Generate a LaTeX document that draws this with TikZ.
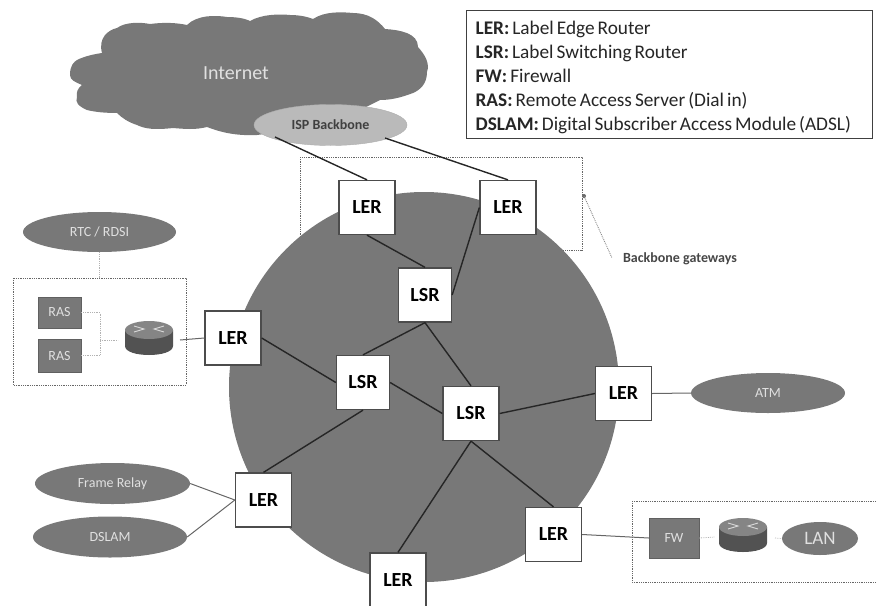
\documentclass[tikz,border=0pt]{standalone}
\usepackage{fontspec}
\setmainfont{Carlito}
\usetikzlibrary{shapes.geometric}
\definecolor{dk}{gray}{0.47}
\tikzset{
 box/.style={draw=black!70,line width=1.3pt,fill=white,minimum width=#1,minimum height=54pt,inner sep=0pt,font=\fontsize{20}{20}\selectfont\bfseries},
 box/.default=56pt,
 oval/.style={ellipse,fill=dk,inner sep=0pt,text=white!88!black,font=\fontsize{14}{14}\selectfont},
 gray box/.style={fill=dk,draw=dk!80!black,inner sep=0pt,text=white!88!black,font=\fontsize{14}{14}\selectfont},
 link/.style={draw=black!85,line width=1.4pt},
 thin link/.style={draw=black!60,line width=1pt},
 faint/.style={draw=black!30,line width=.8pt,densely dotted},
 region/.style={draw=black!60,line width=.8pt,densely dotted},
}
\newcommand{\routericon}[1]{%
 \begin{scope}[shift={(#1)}]
  \fill[black!68] (-24,-8) -- (-24,8) .. controls (-24,20) and (24,20) .. (24,8) -- (24,-8) -- cycle;
  \fill[black!48] (0,-8) ellipse[x radius=24,y radius=9];
  \draw[white!85!black,line width=.9pt] (-15,-12) -- (-5,-9) -- (-15,-6) (15,-12) -- (5,-9) -- (15,-6);
 \end{scope}}
\begin{document}
\begin{tikzpicture}[x=1pt,y=-1pt]
\useasboundingbox (0,0) rectangle (877,605);
\begin{scope}
\clip (0,0) rectangle (877,605);
% regions behind the circle
\draw[region] (300,157) rectangle (582,250);
% backbone circle
\fill[dk] (424,387) circle[radius=195];
% cloud
\fill[dk] (102,53) .. controls (98,38) and (108,30) .. (117,28)
 .. controls (125,22) and (140,22) .. (150,24)
 .. controls (165,22) and (178,23) .. (187,25)
 .. controls (197,15) and (215,15) .. (227,17)
 .. controls (235,17) and (244,18) .. (250,21)
 .. controls (262,14) and (280,14) .. (290,15)
 .. controls (300,15) and (308,17) .. (313,19)
 .. controls (325,11) and (342,12) .. (353,13)
 .. controls (368,13) and (378,20) .. (385,29)
 .. controls (400,30) and (418,33) .. (418,47)
 .. controls (425,55) and (430,63) .. (427,72)
 .. controls (427,84) and (420,90) .. (413,93)
 .. controls (400,98) and (390,100) .. (380,100)
 -- (330,125) -- (257,135)
 .. controls (235,136) and (220,132) .. (207,127)
 .. controls (195,130) and (185,129) .. (173,128)
 .. controls (155,130) and (145,129) .. (137,125)
 .. controls (128,122) and (122,118) .. (117,113)
 .. controls (105,113) and (95,112) .. (87,110)
 .. controls (78,106) and (75,102) .. (77,97)
 .. controls (76,92) and (78,88) .. (82,85)
 .. controls (75,82) and (70,80) .. (70,75)
 .. controls (70,65) and (74,62) .. (77,60)
 .. controls (85,56) and (95,54) .. (102,53) -- cycle;
\node[text=white!88!black,font=\fontsize{20}{20}\selectfont] (inet) at (236,73) {Internet};
\node[ellipse,minimum width=153pt,minimum height=41pt,inner sep=0pt,fill=black!27,draw=black!32,font=\fontsize{14}{14}\selectfont\bfseries,text=black!75] (isp) at (330.5,125) {ISP Backbone};
% dotted regions
\draw[region] (13,278) rectangle (186,385);
\draw[region] (632,501) -- (632,582) -- (877,582) (632,501) -- (877,501);
% nodes
\node[box] (l1) at (367,207.5) {LER};
\node[box] (l2) at (508,207.5) {LER};
\node[box=53pt] (s1) at (425,295) {LSR};
\node[box=53pt] (s2) at (363,382.5) {LSR};
\node[box] (s3) at (471,413.5) {LSR};
\node[box] (l3) at (233,338) {LER};
\node[box] (l4) at (623.5,393.5) {LER};
\node[box] (l5) at (263.5,500) {LER};
\node[box] (l6) at (553.5,534.5) {LER};
\node[box] (l7) at (398,580) {LER};
\node[oval,minimum width=153pt,minimum height=40pt] (rtc) at (99.5,232) {RTC / RDSI};
\node[gray box,minimum width=43pt,minimum height=31pt] (r1) at (59.5,312.5) {RAS};
\node[gray box,minimum width=43pt,minimum height=33pt] (r2) at (59.5,355.5) {RAS};
\coordinate (rt1) at (149,338);
\routericon{rt1}
\coordinate (j1) at (100,340);
\coordinate (rt1in) at (118,340);
\coordinate (rt1out) at (180,340);
\node[oval,minimum width=154pt,minimum height=40pt] (atm) at (768,393) {ATM};
\node[oval,minimum width=155pt,minimum height=41pt] (fr) at (112.5,483.5) {Frame Relay};
\node[oval,minimum width=154pt,minimum height=41pt] (ds) at (110,537) {DSLAM};
\node[gray box,minimum width=50pt,minimum height=40pt] (fw) at (674,538) {FW};
\coordinate (rt2) at (743,535);
\routericon{rt2}
\coordinate (rt2in) at (715,537);
\coordinate (rt2out) at (775,538);
\node[oval,minimum width=76pt,minimum height=33pt,font=\fontsize{19}{19}\selectfont] (lan) at (820,538.5) {LAN};
\coordinate (ispa) at (275,137);
\coordinate (ispb) at (385,138);
% connectors
\draw[link] (ispa) -- (l1.north);
\draw[link] (ispb) -- (l2.north);
\draw[link] (l1.south) -- (s1.north);
\draw[link] (l2.west) -- (s1.east);
\draw[link] (s1.south) -- (s2.north);
\draw[link] (s1.south) -- (s3.north);
\draw[link] (l3.east) -- (s2.west);
\draw[link] (s2.east) -- (s3.west);
\draw[link] (s3.east) -- (l4.west);
\draw[link] (s2.south) -- (l5.north);
\draw[link] (s3.south) -- (l6.north);
\draw[link] (s3.south) -- (l7.north);
\draw[thin link] (atm.west) -- (l4.east);
\draw[thin link] (fr.east) -- (l5.west);
\draw[thin link] (ds.east) -- (l5.west);
\draw[thin link] (l6.east) -- (fw.west);
\draw[thin link] (rt1out) -- (l3.west);
\draw[faint] (rtc.south) -- (99.5,278);
\draw[faint] (r1.east) -| (j1);
\draw[faint] (r2.east) -| (j1);
\draw[faint] (j1) -- (rt1in);
\draw[faint] (fw.east) -- (rt2in);
\draw[faint] (rt2out) -- (lan.west);
% gateway pointer
\coordinate (gs) at (584,196);
\coordinate (gp) at (612,258);
\fill[black!60] (gs) circle[radius=2];
\draw[black!45,line width=.9pt,densely dotted] (gs) -- (gp);
\node[font=\fontsize{14}{14}\selectfont\bfseries,text=black!72] (gw) at (680,259) {Backbone gateways};
% legend
\node[draw=black!75,line width=1.2pt,fill=white,align=left,anchor=north west,inner xsep=9pt,inner ysep=0pt,minimum height=128pt,text width=388pt,font=\fontsize{19.3}{24}\selectfont,text=black!85] (legend) at (466,10) {%
\spaceskip=3pt\relax\rule{0pt}{20pt}\textbf{LER:} Label Edge Router\\
\textbf{LSR:} Label Switching Router\\
\textbf{FW:} Firewall\\
\textbf{RAS:} Remote Access Server (Dial in)\\
\textbf{DSLAM:} Digital Subscriber Access Module (ADSL)};
\end{scope}
\end{tikzpicture}
\end{document}
